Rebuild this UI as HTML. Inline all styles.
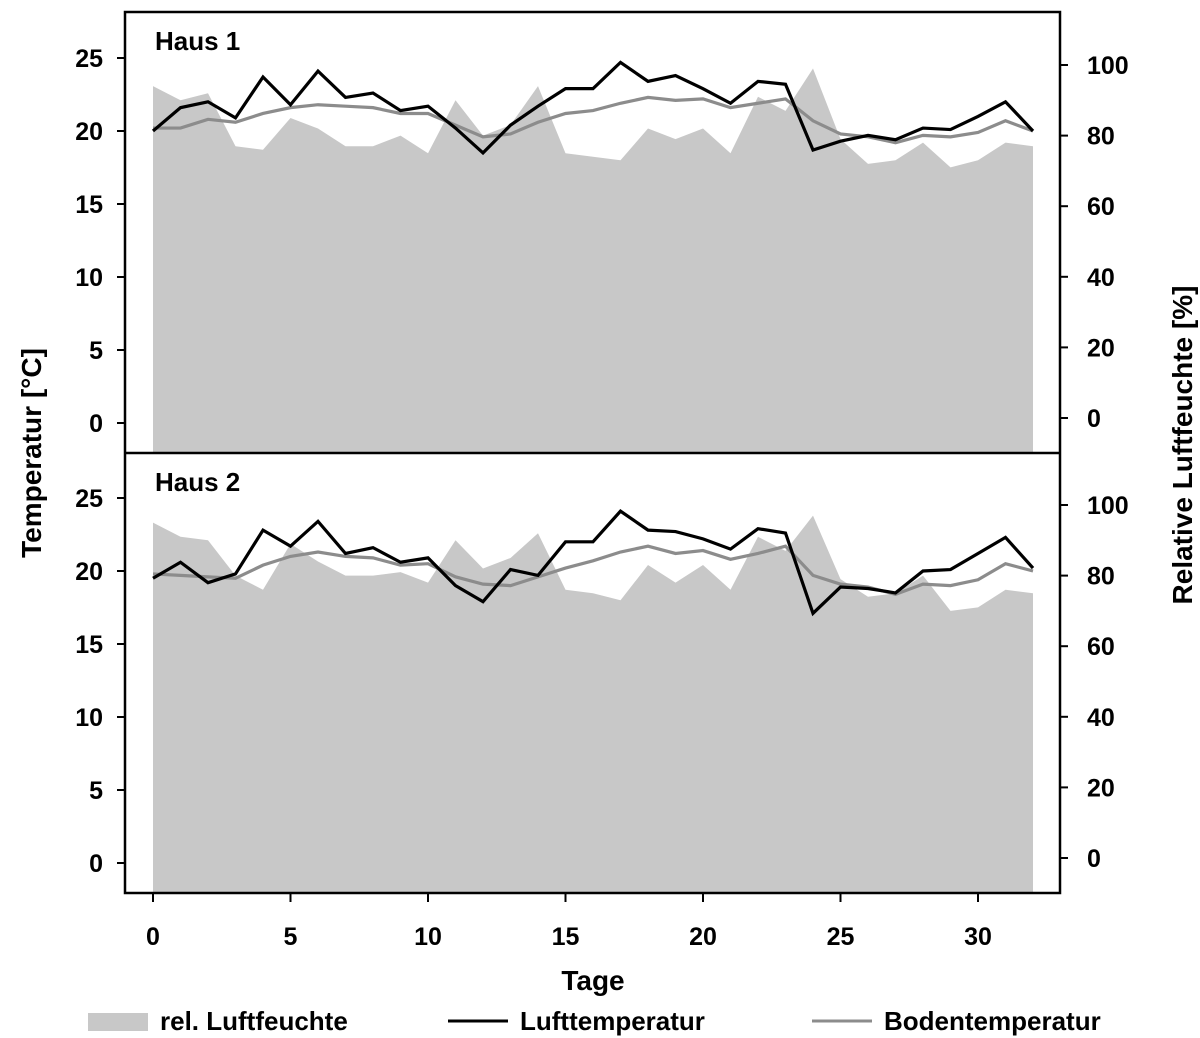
<!DOCTYPE html>
<html><head><meta charset="utf-8"><style>
body{margin:0;background:#fff}
svg{display:block;font-family:"Liberation Sans",sans-serif;font-weight:bold}
</style></head><body>
<svg id="chart" width="1200" height="1038" viewBox="0 0 1200 1038" xmlns="http://www.w3.org/2000/svg"></svg>
<script>
const days=[0,1,2,3,4,5,6,7,8,9,10,11,12,13,14,15,16,17,18,19,20,21,22,23,24,25,26,27,28,29,30,31,32];
const luft1=[20.0,21.6,22.0,20.9,23.7,21.8,24.1,22.3,22.6,21.4,21.7,20.2,18.5,20.4,21.7,22.9,22.9,24.7,23.4,23.8,22.9,21.9,23.4,23.2,18.7,19.3,19.7,19.4,20.2,20.1,21.0,22.0,20.0];
const boden1=[20.2,20.2,20.8,20.6,21.2,21.6,21.8,21.7,21.6,21.2,21.2,20.4,19.6,19.8,20.6,21.2,21.4,21.9,22.3,22.1,22.2,21.6,21.9,22.2,20.7,19.8,19.6,19.2,19.7,19.6,19.9,20.7,20.0];
const rh1=[94,90,92,77,76,85,82,77,77,80,75,90,80,83,94,75,74,73,82,79,82,75,91,87,99,79,72,73,78,71,73,78,77];
const luft2=[19.5,20.6,19.2,19.8,22.8,21.7,23.4,21.2,21.6,20.6,20.9,19.0,17.9,20.1,19.7,22.0,22.0,24.1,22.8,22.7,22.2,21.5,22.9,22.6,17.1,18.9,18.8,18.5,20.0,20.1,21.2,22.3,20.2];
const boden2=[19.8,19.7,19.6,19.5,20.4,21.0,21.3,21.0,20.9,20.4,20.5,19.6,19.1,19.0,19.6,20.2,20.7,21.3,21.7,21.2,21.4,20.8,21.2,21.7,19.7,19.1,18.9,18.4,19.1,19.0,19.4,20.5,20.0];
const rh2=[95,91,90,80,76,89,84,80,80,81,78,90,82,85,92,76,75,73,83,78,83,76,91,87,97,79,74,75,80,70,71,76,75];
const tempTicks=[0,5,10,15,20,25];
const rhTicks=[0,20,40,60,80,100];
const xTicks=[0,5,10,15,20,25,30];

const NS="http://www.w3.org/2000/svg";
const svg=document.getElementById('chart');
function mk(tag,attrs,parent){const e=document.createElementNS(NS,tag);for(const k in attrs)e.setAttribute(k,attrs[k]);(parent||svg).appendChild(e);return e;}
const L=125,R=1060;
const xS=d=>153+d*27.5;
const panels=[
 {top:12,bot:453,t0:423,r0:418,luft:luft1,boden:boden1,rh:rh1,title:'Haus 1'},
 {top:453,bot:893,t0:863,r0:858,luft:luft2,boden:boden2,rh:rh2,title:'Haus 2'}
];
panels.forEach((p,pi)=>{
  const yT=v=>p.t0-v*14.6;
  const yR=v=>p.r0-v*3.53;
  const g=mk('g',{});
  
  
  let d='M'+xS(days[0])+','+p.bot;
  days.forEach((dd,i)=>{d+=' L'+xS(dd)+','+yR(p.rh[i]);});
  d+=' L'+xS(days[days.length-1])+','+p.bot+' Z';
  const a=mk('path',{d:d,fill:'#c8c8c8'},g);
  
  
  const bp=mk('polyline',{points:days.map((dd,i)=>xS(dd)+','+yT(p.boden[i])).join(' '),fill:'none',stroke:'#8c8c8c','stroke-width':3.2},g);
  
  
  const lp=mk('polyline',{points:days.map((dd,i)=>xS(dd)+','+yT(p.luft[i])).join(' '),fill:'none',stroke:'#000','stroke-width':3.2},g);
  
  
  const t=mk('text',{x:155,y:p.top+38,'font-size':26},g);t.textContent=p.title;
  
  
  tempTicks.forEach(v=>{
    mk('line',{x1:117,x2:L,y1:yT(v),y2:yT(v),stroke:'#000','stroke-width':2},g);
    const tx=mk('text',{x:103,y:yT(v)+9,'font-size':25,'text-anchor':'end'},g);tx.textContent=v;
    
    
  });
  rhTicks.forEach(v=>{
    mk('line',{x1:R,x2:R+8,y1:yR(v),y2:yR(v),stroke:'#000','stroke-width':2},g);
    const tx=mk('text',{x:1087,y:yR(v)+9,'font-size':25},g);tx.textContent=v;
    
    
  });
});
mk('rect',{x:L,y:12,width:R-L,height:881,fill:'none',stroke:'#000','stroke-width':2.5});
mk('line',{x1:L,x2:R,y1:453,y2:453,stroke:'#000','stroke-width':2.5});
xTicks.forEach(v=>{
  mk('line',{x1:xS(v),x2:xS(v),y1:893,y2:902,stroke:'#000','stroke-width':2});
  const tx=mk('text',{x:xS(v),y:945,'font-size':25,'text-anchor':'middle'});tx.textContent=v;
  
  
});
</script>
<svg style="position:absolute;left:0;top:0" width="1200" height="1038" xmlns="http://www.w3.org/2000/svg" font-family="Liberation Sans, sans-serif" font-weight="bold">
<text transform="translate(32,453) rotate(-90)" text-anchor="middle" font-size="28" dy="9">Temperatur [°C]</text>
<text transform="translate(1183,445) rotate(-90)" text-anchor="middle" font-size="28" dy="9">Relative Luftfeuchte [%]</text>
<text x="593" y="990" text-anchor="middle" font-size="28">Tage</text>
<g>
<rect x="88" y="1013" width="60" height="18" fill="#c8c8c8"/>
<text x="160" y="1030" font-size="26">rel. Luftfeuchte</text>
<line x1="448" x2="508" y1="1021" y2="1021" stroke="#000" stroke-width="3"/>
<text x="520" y="1030" font-size="26">Lufttemperatur</text>
<line x1="812" x2="872" y1="1021" y2="1021" stroke="#8c8c8c" stroke-width="3"/>
<text x="884" y="1030" font-size="26">Bodentemperatur</text>
</g>
</svg>
</body></html>
